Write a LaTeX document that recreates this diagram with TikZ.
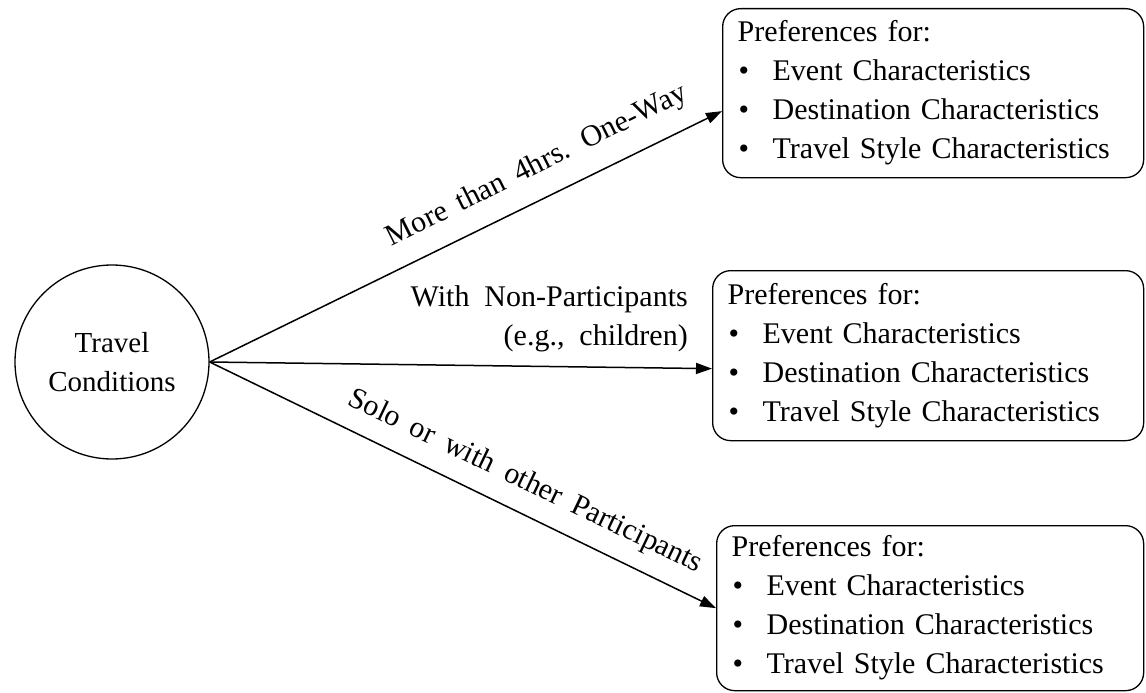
\documentclass[tikz,border=0pt]{standalone}
\usepackage{fontspec}
\setmainfont{Liberation Serif}
\usetikzlibrary{arrows.meta}
\newcommand{\txtfont}{\fontsize{30}{39}\selectfont\spaceskip=15pt plus 2pt minus 2pt\relax}
\newcommand{\lblfont}{\fontsize{30}{39}\selectfont\spaceskip=13pt plus 2pt minus 2pt\relax}
\newcommand{\circfont}{\fontsize{29}{39}\selectfont}
\tikzset{
  box/.style={draw, line width=1.3pt, rounded corners=18pt, inner xsep=15pt, inner ysep=0pt, align=left, anchor=north west},
  arr/.style={draw, line width=1.5pt, -{Triangle[length=16pt,width=11pt]}},
  lbl/.style={inner sep=0pt},
}
\newcommand{\itm}[1]{\mbox{\makebox[35pt][l]{\hspace{1pt}\textbullet}#1}}
\newcommand{\prefs}{\mbox{Preferences for:}\\ \itm{Event Characteristics}\\ \itm{Destination Characteristics}\\ \itm{Travel Style Characteristics}}
\begin{document}
\begin{tikzpicture}[x=1pt, y=-1pt, font=\txtfont]
\useasboundingbox (0,0) rectangle (1146,693);
\node[draw, circle, line width=1.3pt, minimum size=194pt, align=center, inner sep=0pt, font=\circfont] (tc) at (112,362) {Travel\\Conditions};
\node[box, minimum width=421pt, minimum height=169pt, text width=391pt] (b1) at (722,8) {\prefs};
\node[box, minimum width=431pt, minimum height=170pt, text width=401pt] (b2) at (712,270) {\prefs};
\node[box, minimum width=427pt, minimum height=165pt, text width=397pt] (b3) at (716,525) {\prefs};
\draw[arr] (tc.east) -- ([yshift=-18pt]b1.west);
\draw[arr] (tc.east) -- ([yshift=-13pt]b2.west);
\draw[arr] (tc.east) -- (b3.west);
\node[lbl, rotate=26.5, font=\lblfont] (l1) at (537,166) {More than 4hrs. One-Way};
\node[lbl, rotate=-25.6, font=\lblfont] (l3) at (525,482) {Solo or with other Participants};
\node[lbl, align=right, anchor=east] (l2) at (688,319) {With Non-Participants\\(e.g., children)};
\end{tikzpicture}
\end{document}
